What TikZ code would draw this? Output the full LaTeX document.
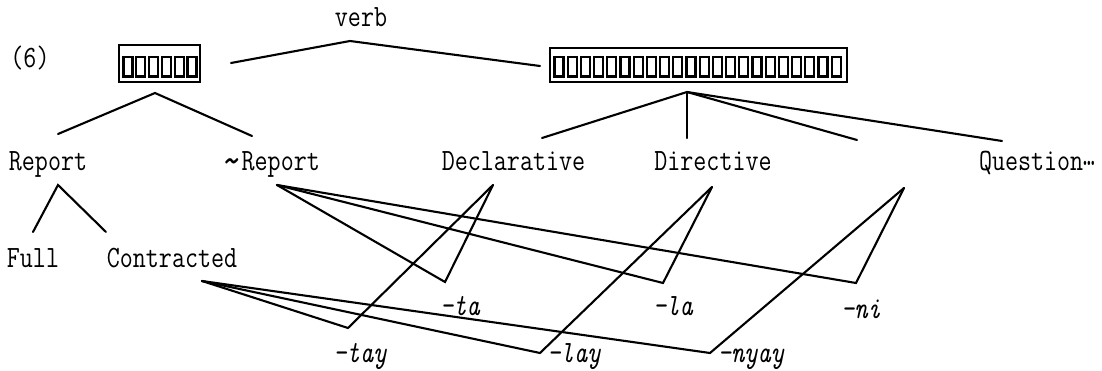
\documentclass[tikz,border=0pt]{standalone}
\usepackage{fontspec}
\tikzset{
  tree/.style={line width=2.1pt, line cap=round, line join=miter},
  word/.style={font=\fontsize{31}{31}\selectfont\ttfamily\addfontfeatures{FakeBold=0.7}, inner sep=0pt, anchor=base},
  suffix/.style={font=\fontsize{31}{31}\selectfont\ttfamily\itshape\addfontfeatures{FakeBold=0.7}, inner sep=0pt, anchor=base},
  frame/.style={draw, line width=1.6pt, inner sep=0pt},
  tofu/.style={draw, line width=2.1pt},
}
% squeeze the typewriter face to a narrow pitch
\newcommand\narrow[1]{\scalebox{0.816}[1]{#1}}
\begin{document}
\begin{tikzpicture}[x=1pt,y=-1pt]
\useasboundingbox (0,0) rectangle (1102,371);

% ---- top row: example number, verb, boxed items
\node[word] (num) at (30,68) {\narrow{(6)}};
\node[word] (verb) at (361,27) {\narrow{verb}};
\node[frame, minimum width=81pt, minimum height=37pt] (sbox) at (159.5,63.5) {};
\node[frame, minimum width=297pt, minimum height=34pt] (bbox) at (698.5,65) {};
\foreach \i in {0,...,5}
  \draw[tofu] ({123.5+12.8*\i},57) rectangle ++(9,19.5);
\foreach \i in {0,...,21}
  \draw[tofu] ({554.5+13.2*\i},57) rectangle ++(9,19.5);

% ---- second row
\node[word] (rep)  at (48,171)   {\narrow{Report}};
\node[word] (nrep) at (271,171)  {\narrow{\raisebox{-5pt}{\scalebox{1.5}{\textasciitilde}}Report}};
\node[word] (decl) at (513.5,171) {\narrow{Declarative}};
\node[word] (dir)  at (713,171)  {\narrow{Directive}};
\node[word] (que)  at (1037,171) {\narrow{Question\raisebox{5pt}{\scalebox{0.9}[1.2]{…}}}};

% ---- third row
\node[word] (full)  at (33,267)  {\narrow{Full}};
\node[word] (contr) at (172,267) {\narrow{Contracted}};

% ---- suffixes
\node[suffix] (ta)   at (460,315) {\narrow{\textendash ta}};
\node[suffix] (la)   at (673,315) {\narrow{\textendash la}};
\node[suffix] (ni)   at (861,318) {\narrow{\textendash ni}};
\node[suffix] (tay)  at (360,362) {\narrow{\textendash tay}};
\node[suffix] (lay)  at (574,362) {\narrow{\textendash lay}};
\node[suffix] (nyay) at (751,362) {\narrow{\textendash nyay}};

% ---- branch points
\coordinate (vL) at (231,63);
\coordinate (vA) at (350,41);
\coordinate (vR) at (540,66);
\coordinate (sA) at (155,93);
\coordinate (bA) at (687,92);
\coordinate (repA) at (58,185);
\coordinate (nrepA) at (277,185);
\coordinate (declA) at (493,185);
\coordinate (dirA) at (712,187);
\coordinate (qA) at (904,188);
\coordinate (contrA) at (202,281);

% ---- branch ends
\coordinate (sL) at (58,134);
\coordinate (sR) at (252,136);
\coordinate (b1) at (542,138);
\coordinate (b2) at (687,138);
\coordinate (b3) at (857,140);
\coordinate (b4) at (1002,141);
\coordinate (rL) at (33,232);
\coordinate (rR) at (106,232);

% ---- suffix vertices
\coordinate (vta) at (445,282);
\coordinate (vla) at (663,283);
\coordinate (vni) at (856,283);
\coordinate (vtay) at (348,328);
\coordinate (vlay) at (540,353);
\coordinate (vnyay) at (710,353);

% ---- tree lines
\draw[tree] (vL) -- (vA) -- (vR);
\draw[tree] (sL) -- (sA) -- (sR);
\draw[tree] (bA) -- (b1);
\draw[tree] (bA) -- (b2);
\draw[tree] (bA) -- (b3);
\draw[tree] (bA) -- (b4);
\draw[tree] (rL) -- (repA) -- (rR);

% ---- feature triangles
\draw[tree] (nrepA) -- (vta) -- (declA);
\draw[tree] (nrepA) -- (vla) -- (dirA);
\draw[tree] (nrepA) -- (vni) -- (qA);
\draw[tree] (contrA) -- (vtay) -- (declA);
\draw[tree] (contrA) -- (vlay) -- (dirA);
\draw[tree] (contrA) -- (vnyay) -- (qA);
\end{tikzpicture}
\end{document}
